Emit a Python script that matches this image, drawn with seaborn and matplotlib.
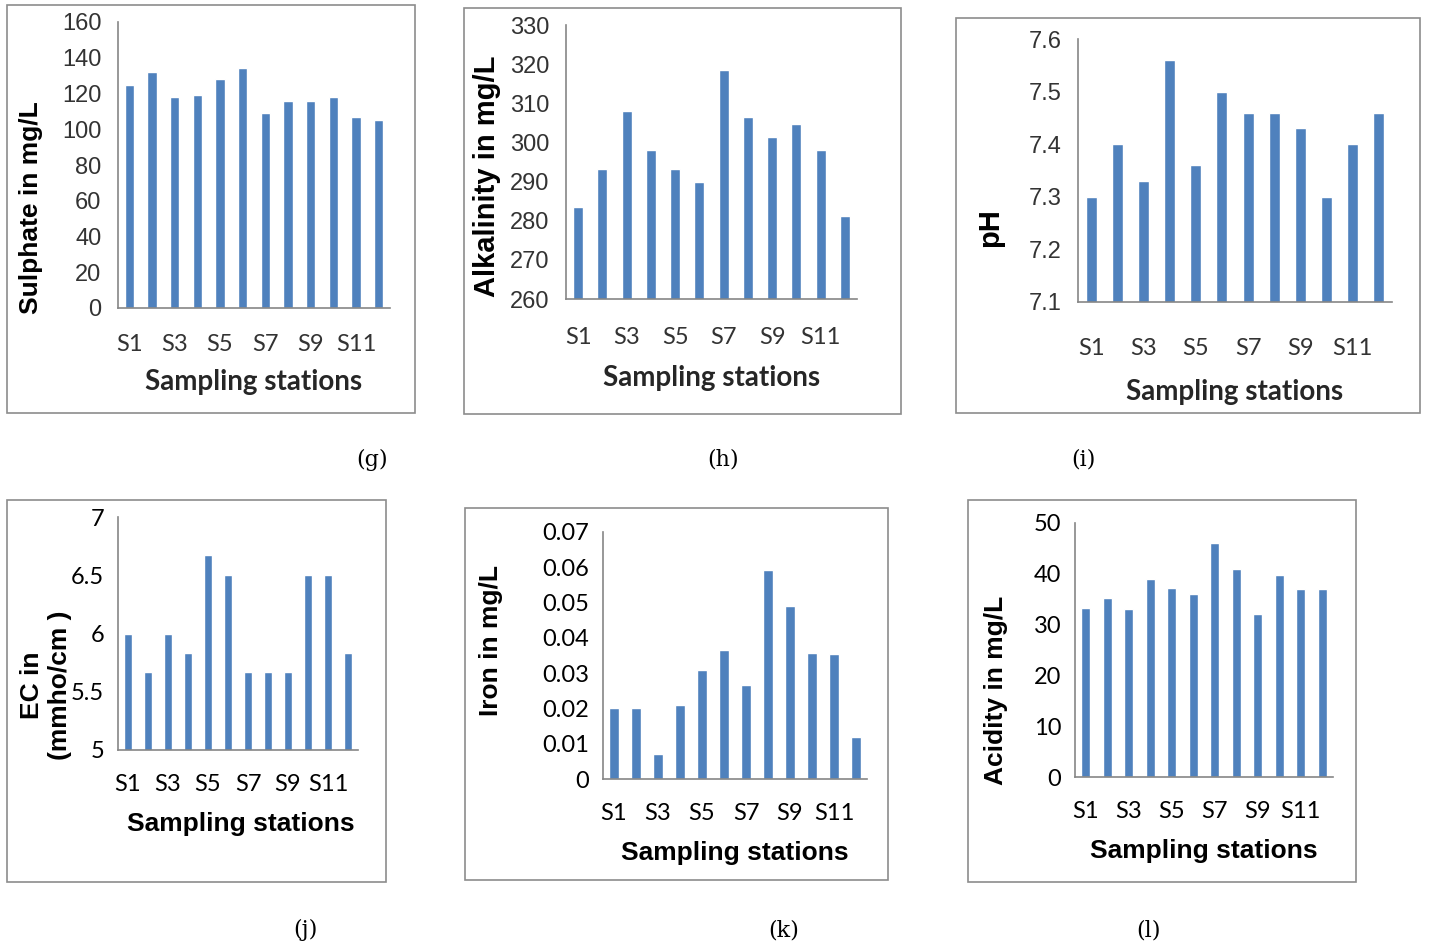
import matplotlib
matplotlib.use("Agg")
import pandas as pd
import matplotlib.pyplot as plt
import seaborn as sns
from matplotlib.patches import Rectangle

# ---- data ----
stations = ["S1", "S2", "S3", "S4", "S5", "S6", "S7", "S8", "S9", "S10", "S11", "S12"]
station_labels = ["S1", "", "S3", "", "S5", "", "S7", "", "S9", "", "S11", ""]

sulphate = [125, 132, 118, 119, 128, 134, 109, 116, 116, 118, 107, 105]
alkalinity = [283.5, 293.3, 308, 298, 293.3, 290, 318.5, 306.5, 301.3, 304.8, 298, 281.3]
ph = [7.30, 7.40, 7.33, 7.56, 7.36, 7.50, 7.46, 7.46, 7.43, 7.30, 7.40, 7.46]
ec = [6.0, 5.67, 6.0, 5.83, 6.67, 6.5, 5.67, 5.67, 5.67, 6.5, 6.5, 5.83]
iron = [0.020, 0.020, 0.007, 0.021, 0.031, 0.0365, 0.0265, 0.0593, 0.049, 0.0357, 0.0354, 0.012]
acidity = [33.3, 35.3, 33.0, 39.0, 37.3, 36.0, 46.0, 41.0, 32.0, 39.7, 37.0, 37.0]

sulphate_ticks = [0, 20, 40, 60, 80, 100, 120, 140, 160]
alkalinity_ticks = [260, 270, 280, 290, 300, 310, 320, 330]
ph_ticks = [7.1, 7.2, 7.3, 7.4, 7.5, 7.6]
ec_ticks = [5, 5.5, 6, 6.5, 7]
ec_tick_labels = ["5", "5.5", "6", "6.5", "7"]
iron_ticks = [0, 0.01, 0.02, 0.03, 0.04, 0.05, 0.06, 0.07]
iron_tick_labels = ["0", "0.01", "0.02", "0.03", "0.04", "0.05", "0.06", "0.07"]
acidity_ticks = [0, 10, 20, 30, 40, 50]

W, H = 1429, 950
BLUE = "#4F81BD"
AXIS_GREY = "#868686"
BOX_GREY = "#8C8C8C"

sns.set_theme(style="white")
fig = plt.figure(figsize=(W / 100, H / 100), dpi=100)
fig.patch.set_facecolor("white")


def fx(x):
    return x / W


def fy(y):
    return 1 - y / H


def panel(values, ticks, tick_labels, ylabel, box, axbox, caption, cap_xy,
          xlabel_xy, ylabel_xy, top_row=True, ylabel_size=19, xpad=None):
    # outer frame
    bx0, by0, bx1, by1 = box
    fig.patches.append(Rectangle((fx(bx0), fy(by1)), fx(bx1 - bx0), (by1 - by0) / H,
                                 transform=fig.transFigure, fill=False,
                                 edgecolor=BOX_GREY, linewidth=1.2))
    l, t, r, b = axbox
    ax = fig.add_axes([fx(l), fy(b), fx(r - l), (b - t) / H])
    df = pd.DataFrame({"station": stations, "value": values})
    sns.barplot(data=df, x="station", y="value", color=BLUE, saturation=1,
                width=0.42, errorbar=None, ax=ax)
    ax.set_xlim(-0.5, 11.5)
    ax.set_ylim(ticks[0], ticks[-1])
    ax.set_yticks(ticks)
    ax.set_yticklabels(tick_labels if tick_labels else [f"{v:g}" for v in ticks])
    ax.set_xticks(range(12))
    ax.set_xticklabels(station_labels)
    ax.set_facecolor("none")
    for s in ["top", "right"]:
        ax.spines[s].set_visible(False)
    for s in ["left", "bottom"]:
        ax.spines[s].set_color(AXIS_GREY)
        ax.spines[s].set_linewidth(1.2)
    ax.tick_params(axis="y", length=5, width=1, color=AXIS_GREY, direction="out")
    if top_row:
        ax.tick_params(axis="y", labelsize=17, labelcolor="#333333", pad=7)
        ax.tick_params(axis="x", length=0, pad=xpad or 19, labelsize=17,
                       labelcolor="#333333")
        for lab in ax.get_xticklabels():
            lab.set_fontfamily("Lato")
        for lab in ax.get_yticklabels():
            lab.set_fontfamily("Liberation Sans")
        xfam, xcol, xsize = "Lato", "#262626", 20
    else:
        ax.tick_params(axis="y", labelsize=17, labelcolor="black", pad=5)
        ax.tick_params(axis="x", length=0, pad=xpad or 17, labelsize=17,
                       labelcolor="black")
        for lab in ax.get_xticklabels() + ax.get_yticklabels():
            lab.set_fontfamily("Lato")
        xfam, xcol, xsize = "Liberation Sans", "black", 19
    ax.set_xlabel("Sampling stations", fontsize=xsize, fontweight="bold",
                  fontfamily=xfam, color=xcol, va="center")
    ax.xaxis.set_label_coords(fx(xlabel_xy[0]), fy(xlabel_xy[1]), transform=fig.transFigure)
    ax.set_ylabel(ylabel, fontsize=ylabel_size, fontweight="bold",
                  fontfamily="Liberation Sans", color="black", va="center",
                  ha="center", multialignment="center", linespacing=1.2)
    ax.yaxis.set_label_coords(fx(ylabel_xy[0]), fy(ylabel_xy[1]), transform=fig.transFigure)
    fig.text(fx(cap_xy[0]), fy(cap_xy[1]), caption, ha="center", va="center",
             fontsize=16, fontfamily="DejaVu Serif", color="black")
    return ax


panel(sulphate, sulphate_ticks, None, "Sulphate in mg/L",
      (7, 5, 415, 413), (118, 22, 390, 308), "(g)", (372, 460),
      (254, 382), (31, 208))
panel(alkalinity, alkalinity_ticks, None, "Alkalinity in mg/L",
      (464, 8, 901, 414), (566, 25, 857, 299), "(h)", (723, 460),
      (712, 378), (487, 176), ylabel_size=21, xpad=20)
panel(ph, ph_ticks, None, "pH",
      (956, 18, 1420, 413), (1078, 39, 1392, 302), "(i)", (1083, 460),
      (1235, 392), (990, 228), ylabel_size=21, xpad=26)
panel(ec, ec_ticks, ec_tick_labels, "EC in\n(mmho/cm )",
      (7, 500, 386, 882), (118, 517, 358, 750), "(j)", (305, 930),
      (241, 824), (46, 685), top_row=False)
panel(iron, iron_ticks, iron_tick_labels, "Iron in mg/L",
      (465, 508, 888, 880), (603, 532, 867, 779), "(k)", (784, 930),
      (735, 853), (491, 640), top_row=False)
panel(acidity, acidity_ticks, None, "Acidity in mg/L",
      (968, 500, 1356, 882), (1075, 523, 1333, 777), "(l)", (1148, 930),
      (1204, 851), (996, 690), top_row=False)

fig.savefig("out.png", dpi=100, facecolor="white")
